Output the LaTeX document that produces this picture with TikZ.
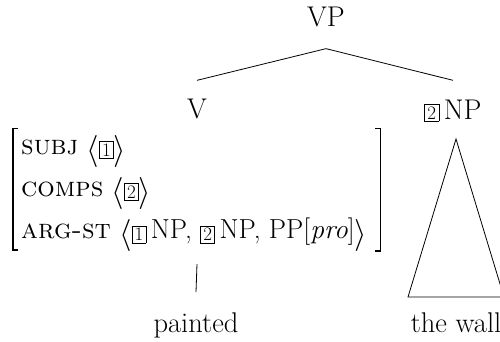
\RequirePackage{fix-cm}
\documentclass[tikz,border=0pt]{standalone}
\newcommand{\boxtag}[2][-2pt]{\raisebox{#1}{\setlength{\fboxsep}{2pt}\setlength{\fboxrule}{0.6pt}\fbox{\rule{0pt}{12.5pt}\makebox[9.5pt]{\fontsize{19}{19}\selectfont #2}}}}
\newcommand{\lang}{\raisebox{-5pt}{\fontsize{32}{32}\selectfont$\langle$}}
\newcommand{\rang}{\raisebox{-5pt}{\fontsize{32}{32}\selectfont$\rangle$}}
\newcommand{\bigfs}{\fontsize{28.5}{42}\selectfont}
\newcommand{\avmfs}{\fontsize{27.5}{42}\selectfont}
\begin{document}
\begin{tikzpicture}[x=1pt,y=-1pt,
  every node/.style={inner sep=0pt, font=\bigfs},
  treeline/.style={line width=0.8pt},
  bracket/.style={line width=1.1pt}]
\useasboundingbox (0,0) rectangle (500,342);
\node[anchor=base] (VP) at (326,27) {VP};
\node[anchor=base] (V) at (197,118) {V};
\node[anchor=base] (NP) at (453,119) {\boxtag[0pt]{2}\,NP};
\node[anchor=base west, font=\avmfs] (avm) at (21,154) {\begin{tabular}[t]{@{}l@{}}
\textsc{subj} \lang\boxtag{1}\rang\\
\textsc{comps} \lang\boxtag{2}\rang\\
\textsc{arg-st} \lang\boxtag{1}\,NP, \boxtag{2}\,NP, PP[\textit{pro}]\rang
\end{tabular}};
\node[anchor=base] (painted) at (196,332) {painted};
\node[anchor=base] (wall) at (456,332) {the wall};
% tree lines
\coordinate (apex) at ([yshift=-21pt]VP.south);
\draw[treeline] (apex) -- ([yshift=18pt]V.north);
\draw[treeline] (apex) -- ([yshift=19pt]NP.north);
% triangle
\coordinate (tri) at ([shift={(3pt,-20pt)}]NP.base);
\draw[treeline] (tri) -- ++(-48,158) -- ++(96,0) -- cycle;
% stem to painted
\path (avm.south -| V.south) coordinate (vstem);
\draw[treeline] ([yshift=-12pt]vstem) -- ([yshift=20pt]painted.north);
% AVM brackets
\draw[bracket] ([xshift=-3pt,yshift=-4pt]avm.north west) -| ([xshift=-8pt,yshift=2pt]avm.south west) -- ++(5,0);
\draw[bracket] ([xshift=8pt,yshift=-4pt]avm.north east) -| ([xshift=13pt,yshift=1pt]avm.south east) -- ++(-5,0);
\end{tikzpicture}
\end{document}
